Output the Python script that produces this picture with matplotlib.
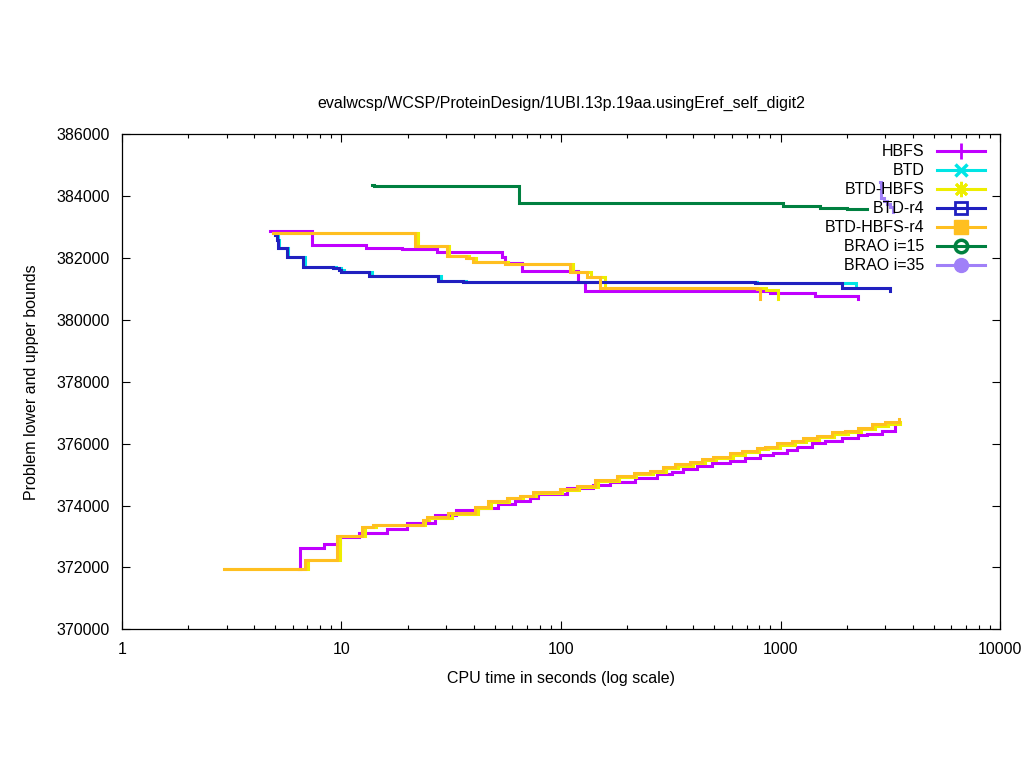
import matplotlib.pyplot as plt
from matplotlib.lines import Line2D

plt.rcParams['font.family'] = ['Liberation Sans', 'DejaVu Sans']

# HBFS
hbfs_ub_t = [4.72, 7.31, 12.9, 18.8, 27.2, 53.7, 55.6, 66.2, 119.5, 128.6, 895, 1436, 2249]
hbfs_ub = [382873, 382411, 382314, 382282, 382195, 382023, 381829, 381597, 381241, 380924, 380879, 380773, 380680]
hbfs_lb_t = [6.4, 6.47, 8.32, 9.84, 12.05, 16.2, 19.95, 26.7, 33.2, 42.0, 51.8, 61.7, 72.2, 78.8, 106, 140,
             167, 217, 273, 319, 361, 415, 486, 589, 689, 807, 927, 1066, 1185, 1387, 1595, 1900, 2261,
             2469, 2892, 3325]
hbfs_lb = [371950, 372618, 372757, 372973, 373103, 373232, 373426, 373684, 373856, 373911, 374050, 374156,
           374253, 374373, 374567, 374654, 374761, 374900, 375010, 375094, 375181, 375278, 375384, 375439,
           375536, 375633, 375708, 375795, 375902, 376012, 376086, 376193, 376270, 376322, 376409, 376529]

# BTD
btd_ub_t = [5.02, 5.15, 5.2, 5.72, 6.85, 9.4, 10.0, 10.3, 13.8, 28.4, 37.0, 780, 2215]
btd_ub = [382740, 382582, 382333, 382042, 381700, 381667, 381613, 381538, 381409, 381247, 381215, 381183, 381080]

# BTD-HBFS
bh_ub_t = [4.95, 22.3, 31.0, 38.2, 41.0, 57.5, 114, 137, 158, 860, 977]
bh_ub = [382799, 382388, 382065, 382010, 381871, 381797, 381558, 381396, 381021, 380960, 380666]
bh_lb_t = [2.95, 7.05, 9.85, 12.8, 14.3, 24.0, 25.0, 31.8, 41.8, 48.0, 58.0, 67.0, 77.0, 101, 121, 147, 184,
           220, 262, 300, 341, 398, 451, 509, 607, 686, 802, 875, 990, 1160, 1310, 1505, 1760, 2025, 2330,
           2680, 3085, 3520]
bh_lb = [371950, 372240, 373015, 373316, 373381, 373533, 373600, 373740, 373930, 374120, 374230, 374300,
         374420, 374500, 374600, 374790, 374920, 375020, 375090, 375210, 375290, 375380, 375460, 375540,
         375650, 375730, 375820, 375860, 375970, 376050, 376130, 376210, 376320, 376370, 376460, 376570,
         376640, 376700]

# BTD-r4
r4_ub_t = [5.0, 5.1, 5.12, 5.63, 6.66, 9.18, 9.74, 10.0, 13.3, 27.6, 35.9, 765, 1900, 3155]
r4_ub = [382740, 382582, 382333, 382042, 381700, 381667, 381613, 381538, 381409, 381247, 381215, 381183,
         381021, 380920]

# BTD-HBFS-r4
bhr4_ub_t = [4.89, 21.6, 30.1, 36.9, 39.6, 55.6, 110, 132, 151, 779, 803]
bhr4_ub = [382799, 382388, 382065, 382010, 381871, 381797, 381558, 381396, 381021, 380990, 380666]
bhr4_lb_t = [2.91, 6.82, 9.51, 12.45, 13.97, 23.4, 24.4, 30.6, 40.6, 46.7, 56.6, 65.1, 74.8, 98.9, 118, 143,
             179, 214, 254, 292, 331, 387, 438, 494, 589, 666, 779, 850, 961, 1125, 1270, 1462, 1711, 1967,
             2261, 2604, 2994, 3470]
bhr4_lb = [371950, 372240, 373015, 373316, 373381, 373533, 373639, 373769, 373962, 374156, 374253, 374318,
           374447, 374525, 374631, 374825, 374955, 375061, 375126, 375255, 375333, 375417, 375504, 375578,
           375688, 375772, 375869, 375902, 376012, 376096, 376173, 376257, 376367, 376419, 376516, 376626,
           376710, 376797]

# BRAO
brao15_t = [13.8, 14.0, 64.6, 1023, 1514, 2005, 2470]
brao15 = [384370, 384327, 383768, 383681, 383607, 383574, 383574]
brao35_t = [2850, 2870, 2950, 3050, 3150, 3260]
brao35 = [384470, 383940, 383860, 383760, 383650, 383500]

names = ['HBFS', 'BTD', 'BTD-HBFS', 'BTD-r4', 'BTD-HBFS-r4', 'BRAO i=15', 'BRAO i=35']
colors = ['#c000ff', '#00e5e5', '#eeee00', '#2020c0', '#ffbf20', '#008040', '#a080f8']

fig = plt.figure(figsize=(10.24, 7.68), dpi=100)
ax = fig.add_axes([0.1191, 0.1806, 0.8575, 0.6445])

lw = 2.2
series = [
    (0, hbfs_ub_t, hbfs_ub), (0, hbfs_lb_t, hbfs_lb),
    (1, btd_ub_t, btd_ub),
    (2, bh_ub_t, bh_ub), (2, bh_lb_t, bh_lb),
    (3, r4_ub_t, r4_ub),
    (4, bhr4_ub_t, bhr4_ub), (4, bhr4_lb_t, bhr4_lb),
    (5, brao15_t, brao15),
    (6, brao35_t, brao35),
]
for k, t, v in series:
    ax.step(t, v, where='post', color=colors[k], lw=lw, solid_joinstyle='miter')

ax.set_xscale('log')
ax.set_xlim(1, 10000)
ax.set_ylim(370000, 386000)
ax.set_yticks(range(370000, 386001, 2000))
ax.set_xticks([1, 10, 100, 1000, 10000])
ax.set_xticklabels(['1', '10', '100', '1000', '10000'])
ax.tick_params(which='both', direction='in', top=True, right=True, labelsize=11.5, width=0.8)
ax.tick_params(which='major', length=6, pad=9)
ax.tick_params(which='minor', length=3)
ax.tick_params(axis='y', which='minor', left=False, right=False)
for s in ax.spines.values():
    s.set_linewidth(0.9)

ax.set_title('evalwcsp/WCSP/ProteinDesign/1UBI.13p.19aa.usingEref_self_digit2', fontsize=11.5, pad=19)
ax.set_xlabel('CPU time in seconds (log scale)', fontsize=11.5, labelpad=10)
ax.set_ylabel('Problem lower and upper bounds', fontsize=11.5, labelpad=12)

markers = [dict(marker='+', ms=11, mew=2), dict(marker='x', ms=9, mew=2.5),
           dict(marker=(8, 2, 0), ms=11, mew=2), dict(marker='s', ms=9, mew=2, mfc='none'),
           dict(marker='s', ms=10), dict(marker='o', ms=9, mew=2.5, mfc='none'),
           dict(marker='o', ms=10)]
handles = [Line2D([], [], color=c, lw=lw, **m) for c, m in zip(colors, markers)]
ax.legend(handles, names, loc='upper right', bbox_to_anchor=(0.983, 0.98), frameon=False,
          markerfirst=False, fontsize=11.5, handlelength=3.0, handletextpad=0.8,
          labelspacing=0.25, borderpad=0, borderaxespad=0, numpoints=1)

fig.savefig('out.png', dpi=100)
